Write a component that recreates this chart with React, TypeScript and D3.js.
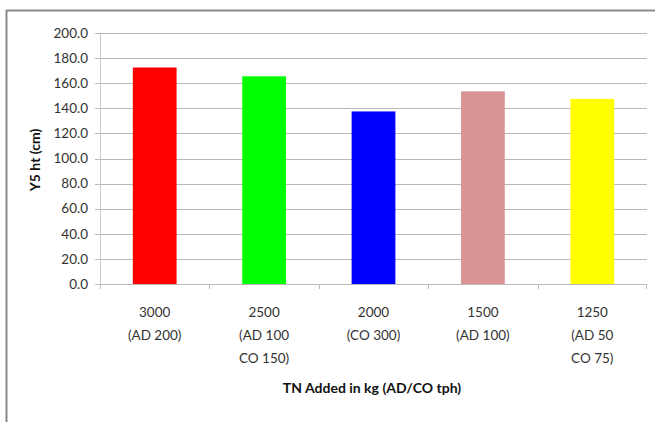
import React from "react";
import * as d3 from "d3";

const categories = ["3000|(AD 200)", "2500|(AD 100|CO 150)", "2000|(CO 300)", "1500|(AD 100)", "1250|(AD 50|CO 75)"];
const values = [172.5, 165.5, 137.5, 153.5, 147.5];
const colors = ["#ff0000", "#00ff00", "#0000ff", "#d99594", "#ffff00"];
const yTicks = [0, 20, 40, 60, 80, 100, 120, 140, 160, 180, 200];
const yTitle = "Y5 ht (cm)";
const xTitle = "TN Added in kg (AD/CO tph)";

export default function App() {
  const W = 655, H = 422;
  const left = 100, right = 647, top = 33, bottom = 284;
  const x = d3.scaleBand<string>().domain(categories).range([left, right]).paddingInner(0.6).paddingOuter(0.3);
  const xOuter = d3.scaleBand<string>().domain(categories).range([left, right]);
  const y = d3.scaleLinear().domain([0, 200]).range([bottom, top]);
  const font = "Lato, 'Open Sans', sans-serif";
  return (
    <svg width={W} height={H} style={{ position: "absolute", left: 0, top: 0, background: "#fff" }} fontFamily={font}>
      <rect x={0} y={0} width={W} height={H} fill="#fff" />
      <line x1={6.5} x2={6.5} y1={10} y2={H} stroke="#8a8a8a" strokeWidth={2} />
      <line x1={6} x2={W} y1={10.5} y2={10.5} stroke="#8a8a8a" strokeWidth={2} />
      {yTicks.map((t) => (
        <g key={t}>
          <line x1={95} x2={right} y1={Math.round(y(t)) + 0.5} y2={Math.round(y(t)) + 0.5} stroke={t === 0 ? "#bbb" : "#b8b8b8"} strokeWidth={1} />
          <text x={88} y={y(t)} dy="0.35em" textAnchor="end" fontSize={13.5} fill="#333">{t.toFixed(1)}</text>
        </g>
      ))}
      <line x1={left + 0.5} x2={left + 0.5} y1={top} y2={bottom} stroke="#c8c8c8" />
      {categories.map((c, i) => (
        <line key={"t" + i} x1={Math.round(xOuter(c)!) + 0.5} x2={Math.round(xOuter(c)!) + 0.5} y1={bottom} y2={bottom + 5} stroke="#bbb" />
      ))}
      <line x1={right - 0.5} x2={right - 0.5} y1={bottom} y2={bottom + 5} stroke="#bbb" />
      {categories.map((c, i) => (
        <rect key={c} x={x(c)} y={y(values[i])} width={x.bandwidth()} height={bottom - y(values[i])} fill={colors[i]} />
      ))}
      {categories.map((c) => {
        const cx = xOuter(c)! + xOuter.bandwidth() / 2;
        return (
          <text key={"l" + c} x={cx} textAnchor="middle" fontSize={13.5} fill="#333">
            {c.split("|").map((s, j) => (
              <tspan key={j} x={cx} y={317 + j * 23}>{s}</tspan>
            ))}
          </text>
        );
      })}
      <text x={372} y={393} textAnchor="middle" fontSize={14} fontWeight="bold" fill="#111">{xTitle}</text>
      <text transform={`translate(40,160) rotate(-90)`} textAnchor="middle" fontSize={14} fontWeight="bold" fill="#111">{yTitle}</text>
    </svg>
  );
}
